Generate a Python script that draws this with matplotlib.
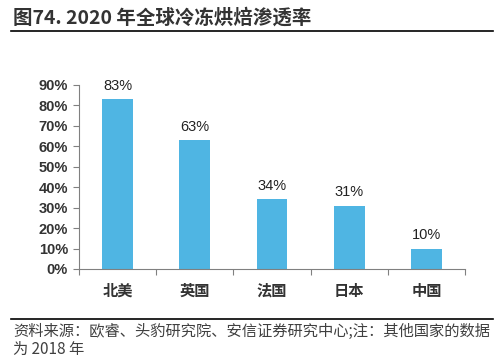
import matplotlib.pyplot as plt
from matplotlib.lines import Line2D

plt.rcParams['font.family'] = ['Noto Sans CJK SC', 'DejaVu Sans']

regioes = ['北美', '英国', '法国', '日本', '中国']
penetracao = [83, 63, 34, 31, 10]
ticks_y = [0, 10, 20, 30, 40, 50, 60, 70, 80, 90]

fig = plt.figure(figsize=(4.97, 3.62), dpi=100)
ax = fig.add_axes([79 / 497, 1 - 269 / 362, (465 - 79) / 497, (269 - 85) / 362])

x = range(len(regioes))
barras = ax.bar(x, penetracao, width=0.4, color='#4FB5E3')
for xi, v in zip(x, penetracao):
    ax.text(xi, v + 3, f'{v}%', ha='center', va='bottom', fontsize=10.5,
            family=['Liberation Sans'], color='#222222')

ax.set_xlim(-0.5, len(regioes) - 0.5)
ax.set_ylim(0, 90)
ax.set_yticks(ticks_y)
ax.set_yticklabels([f'{t}%' for t in ticks_y], family=['Liberation Sans'],
                   fontsize=10.5, fontweight='bold', color='#333333')
# ticks entre as categorias, nomes no meio
ax.set_xticks([i - 0.5 for i in range(len(regioes) + 1)], minor=False)
ax.set_xticklabels([])
ax.set_xticks(list(x), minor=True)
ax.set_xticklabels(regioes, minor=True, fontsize=11, fontweight='bold', color='#333333')
ax.tick_params(axis='x', which='major', length=4, color='#808080')
ax.tick_params(axis='x', which='minor', length=0, pad=10)
ax.tick_params(axis='y', length=4, color='#808080', pad=4)
for s in ['top', 'right']:
    ax.spines[s].set_visible(False)
for s in ['left', 'bottom']:
    ax.spines[s].set_color('#808080')

fig.text(13 / 497, 1 - 18 / 362, '图74. 2020 年全球冷冻烘焙渗透率', fontsize=14,
         fontweight='bold', color='#333333', va='center', ha='left')
fig.add_artist(Line2D([11 / 497, 493 / 497], [1 - 31 / 362] * 2, color='black', lw=1.2))
fig.add_artist(Line2D([11 / 497, 493 / 497], [1 - 319 / 362] * 2, color='black', lw=1.2))
fig.text(13 / 497, 1 - 331 / 362, '资料来源：欧睿、头豹研究院、安信证券研究中心;注：其他国家的数据',
         fontsize=11, color='#404040', va='center', ha='left', style='italic')
fig.text(13 / 497, 1 - 349 / 362, '为 2018 年', fontsize=11, color='#404040',
         va='center', ha='left', style='italic')

fig.savefig('out.png', dpi=100)
